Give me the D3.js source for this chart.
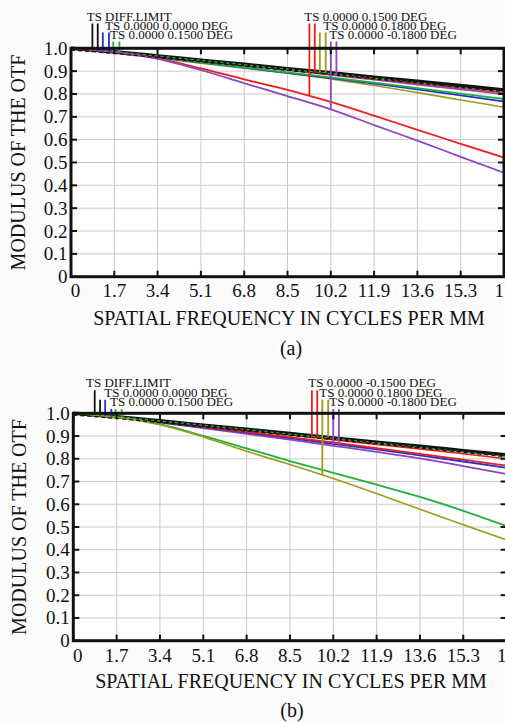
<!DOCTYPE html>
<html>
<head>
<meta charset="utf-8">
<script src="https://cdn.jsdelivr.net/npm/d3@7"></script>
<style>
  html, body { margin: 0; padding: 0; background: #fbfbfb; }
  svg { display: block; }
  text { font-family: "Liberation Serif", "Times New Roman", serif; fill: #111; }
</style>
</head>
<body>
<svg id="chart" width="505" height="722"></svg>
<script>
// ---------- data ----------
const freqTicks = [0, 1.7, 3.4, 5.1, 6.8, 8.5, 10.2, 11.9, 13.6, 15.3, 17];
const freqLabels = ["0", "1.7", "3.4", "5.1", "6.8", "8.5", "10.2", "11.9", "13.6", "15.3", "17"];
const mtfTicks = [0, 0.1, 0.2, 0.3, 0.4, 0.5, 0.6, 0.7, 0.8, 0.9, 1.0];
const mtfLabels = ["0", "0.1", "0.2", "0.3", "0.4", "0.5", "0.6", "0.7", "0.8", "0.9", "1.0"];

// panel (a) series, sampled at freqTicks
const aDiff    = [1, 0.985, 0.967, 0.948, 0.930, 0.911, 0.893, 0.874, 0.856, 0.837, 0.818];
const aGreenS  = [1, 0.985, 0.966, 0.947, 0.928, 0.908, 0.889, 0.869, 0.849, 0.828, 0.808];
const aRedS    = [1, 0.984, 0.965, 0.945, 0.926, 0.906, 0.886, 0.866, 0.846, 0.826, 0.805];
const aPurpleS = [1, 0.984, 0.964, 0.944, 0.924, 0.904, 0.883, 0.862, 0.841, 0.820, 0.799];
const aGreenT  = [1, 0.982, 0.961, 0.939, 0.917, 0.895, 0.873, 0.850, 0.826, 0.802, 0.778];
const aBlue    = [1, 0.982, 0.960, 0.938, 0.915, 0.892, 0.869, 0.845, 0.820, 0.794, 0.767];
const aOliveT  = [1, 0.979, 0.957, 0.935, 0.913, 0.891, 0.866, 0.837, 0.806, 0.774, 0.742];
const aRedT    = [1, 0.984, 0.956, 0.912, 0.864, 0.818, 0.765, 0.705, 0.643, 0.582, 0.521];
const aPurpleT = [1, 0.984, 0.954, 0.905, 0.847, 0.791, 0.733, 0.664, 0.596, 0.525, 0.455];

// panel (b) series
const bDiff    = [1, 0.985, 0.967, 0.948, 0.930, 0.911, 0.892, 0.873, 0.855, 0.836, 0.817];
const bGreenS  = [1, 0.985, 0.966, 0.947, 0.928, 0.908, 0.889, 0.869, 0.850, 0.830, 0.810];
const bRedS    = [1, 0.984, 0.965, 0.945, 0.925, 0.905, 0.884, 0.863, 0.843, 0.822, 0.800];
const bRedT    = [1, 0.983, 0.962, 0.940, 0.918, 0.895, 0.872, 0.847, 0.822, 0.796, 0.770];
const bBlue    = [1, 0.983, 0.961, 0.938, 0.915, 0.891, 0.866, 0.841, 0.815, 0.788, 0.760];
const bPurple  = [1, 0.982, 0.959, 0.935, 0.910, 0.884, 0.857, 0.830, 0.802, 0.768, 0.733];
const bGreenT  = [1, 0.983, 0.952, 0.901, 0.846, 0.790, 0.738, 0.686, 0.632, 0.571, 0.504];
const bOliveT  = [1, 0.982, 0.950, 0.896, 0.833, 0.775, 0.713, 0.647, 0.578, 0.510, 0.443];

// legend texts
const aLegendLeft  = ["TS DIFF.LIMIT", "TS 0.0000 0.0000 DEG", "TS 0.0000 0.1500 DEG"];
const aLegendRight = ["TS 0.0000 0.1500 DEG", "TS 0.0000 0.1800 DEG", "TS 0.0000 -0.1800 DEG"];
const bLegendLeft  = ["TS DIFF.LIMIT", "TS 0.0000 0.0000 DEG", "TS 0.0000 0.1500 DEG"];
const bLegendRight = ["TS 0.0000 -0.1500 DEG", "TS 0.0000 0.1800 DEG", "TS 0.0000 -0.1800 DEG"];

// legend marker frequencies
const markerFreqsLeft  = [0.84, 1.05, 1.25, 1.49, 1.66, 1.90];
const markerFreqsRight = [9.36, 9.57, 9.77, 10.0, 10.2, 10.42];

const xTitle = "SPATIAL FREQUENCY IN CYCLES PER MM";
const yTitle = "MODULUS OF THE OTF";

// ---------- styles ----------
const C = {
  black: "#111111", blue: "#2233cc", green: "#22b03c", red: "#ee1c1c",
  olive: "#9c9c1e", purple: "#8f45c0", grid: "#c9c9c9"
};

const panels = [
  {
    name: "(a)", x0: 71, x1: 504, y0: 48.3, y1: 276.7,
    lines: [
      { v: aOliveT, c: C.olive, w: 1.6 },
      { v: aBlue, c: C.blue, w: 1.8 },
      { v: aGreenT, c: C.green, w: 1.8 },
      { v: aPurpleS, c: C.purple, w: 1.6 },
      { v: aRedS, c: C.red, w: 1.6 },
      { v: aDiff, c: C.black, w: 3.4 },
      { v: aGreenS, c: C.green, w: 1.4, d: "3,3" },
      { v: aRedT, c: C.red, w: 1.8 },
      { v: aPurpleT, c: C.purple, w: 1.8 }
    ],
    legL: aLegendLeft, legR: aLegendRight,
    legLx: [86.7, 105, 110], legRx: [304.3, 323.3, 329.3], legBase: [20.5, 29.5, 38.5],
    markersL: [
      { c: C.black, row: 0, v: aDiff }, { c: C.black, row: 0, v: aDiff },
      { c: C.blue, row: 1, v: aBlue }, { c: C.blue, row: 1, v: aBlue },
      { c: C.green, row: 2, v: aGreenT }, { c: C.green, row: 2, v: aGreenS }
    ],
    markersR: [
      { c: C.red, row: 0, v: aRedT }, { c: C.red, row: 0, v: aRedS },
      { c: C.olive, row: 1, v: aGreenS }, { c: C.olive, row: 1, v: aGreenS },
      { c: C.purple, row: 2, v: aPurpleT }, { c: C.purple, row: 2, v: aPurpleS }
    ],
    xLabBase: 296.5, xTitleBase: 325, xTitleX: 289, yTitleX: 25, capBase: 355, capX: 291
  },
  {
    name: "(b)", x0: 73.3, x1: 506.6, y0: 413.3, y1: 640.7,
    lines: [
      { v: bPurple, c: C.purple, w: 1.8 },
      { v: bBlue, c: C.blue, w: 1.8 },
      { v: bRedT, c: C.red, w: 1.8 },
      { v: bRedS, c: C.red, w: 1.6 },
      { v: bDiff, c: C.black, w: 3.4 },
      { v: bGreenS, c: C.green, w: 1.4, d: "3,3" },
      { v: bGreenT, c: C.green, w: 1.8 },
      { v: bOliveT, c: C.olive, w: 1.6 }
    ],
    legL: bLegendLeft, legR: bLegendRight,
    legLx: [86, 104.3, 110], legRx: [308.3, 319.3, 329.3], legBase: [387.3, 396.7, 406],
    markersL: [
      { c: C.black, row: 0, v: bDiff }, { c: C.black, row: 1, v: bDiff },
      { c: C.blue, row: 1, v: bBlue }, { c: C.blue, row: 2, v: bBlue },
      { c: C.green, row: 2, v: bGreenT }, { c: C.green, row: 2, v: bGreenS }
    ],
    markersR: [
      { c: C.red, row: 0, v: bRedS }, { c: C.red, row: 0, v: bRedS },
      { c: C.olive, row: 1, v: bOliveT }, { c: C.olive, row: 1, v: bDiff },
      { c: C.purple, row: 2, v: bPurple }, { c: C.purple, row: 2, v: bPurple }
    ],
    xLabBase: 662, xTitleBase: 688, xTitleX: 291, yTitleX: 26, capBase: 717, capX: 292
  }
];

const svg = d3.select("#chart");
svg.append("rect").attr("width", 505).attr("height", 722).attr("fill", "#fbfbfb");

panels.forEach(p => {
  const x = d3.scaleLinear().domain([0, 17]).range([p.x0, p.x1]);
  const y = d3.scaleLinear().domain([0, 1]).range([p.y1, p.y0]);
  const g = svg.append("g");

  // plot background
  g.append("rect").attr("x", p.x0).attr("y", p.y0)
    .attr("width", p.x1 - p.x0).attr("height", p.y1 - p.y0).attr("fill", "#ffffff");

  // grid
  g.append("g").selectAll("line").data(freqTicks.slice(1, -1)).join("line")
    .attr("x1", d => x(d)).attr("x2", d => x(d)).attr("y1", p.y0).attr("y2", p.y1)
    .attr("stroke", C.grid).attr("stroke-width", 1);
  g.append("g").selectAll("line").data(mtfTicks.slice(1, -1)).join("line")
    .attr("y1", d => y(d)).attr("y2", d => y(d)).attr("x1", p.x0).attr("x2", p.x1)
    .attr("stroke", C.grid).attr("stroke-width", 1);

  // curves
  const line = d3.line().x((d, i) => x(freqTicks[i])).y(d => y(d)).curve(d3.curveMonotoneX);
  p.lines.forEach(L => {
    g.append("path").attr("d", line(L.v)).attr("fill", "none")
      .attr("stroke", L.c).attr("stroke-width", L.w)
      .attr("stroke-dasharray", L.d || null);
  });
  // dashed black overlay just under the diffraction limit
  g.append("path").attr("d", line(p.lines.find(L => L.c === C.black).v)).attr("fill", "none")
    .attr("stroke", C.black).attr("stroke-width", 1.2).attr("stroke-dasharray", "4,3")
    .attr("transform", "translate(0,1.8)");

  // legend markers
  const valAt = (vals, f) => d3.scaleLinear().domain(freqTicks).range(vals)(f);
  const drawMarkers = (freqs, marks) => {
    marks.forEach((m, i) => {
      const f = freqs[i];
      g.append("line").attr("x1", x(f)).attr("x2", x(f))
        .attr("y1", p.legBase[m.row] + 3).attr("y2", y(valAt(m.v, f)))
        .attr("stroke", m.c).attr("stroke-width", 1.8);
    });
  };
  drawMarkers(markerFreqsLeft, p.markersL);
  drawMarkers(markerFreqsRight, p.markersR);

  // legend text
  p.legL.forEach((t, i) => g.append("text").attr("x", p.legLx[i]).attr("y", p.legBase[i])
    .attr("font-size", 13).text(t));
  p.legR.forEach((t, i) => g.append("text").attr("x", p.legRx[i]).attr("y", p.legBase[i])
    .attr("font-size", 13).text(t));

  // frame
  g.append("rect").attr("x", p.x0).attr("y", p.y0)
    .attr("width", p.x1 - p.x0).attr("height", p.y1 - p.y0)
    .attr("fill", "none").attr("stroke", "#111").attr("stroke-width", 3);

  // inward ticks
  const tk = 6;
  g.append("g").selectAll("line").data(freqTicks).join("line")
    .attr("x1", d => x(d)).attr("x2", d => x(d)).attr("y1", p.y1).attr("y2", p.y1 - tk)
    .attr("stroke", "#111").attr("stroke-width", 2);
  g.append("g").selectAll("line").data(freqTicks).join("line")
    .attr("x1", d => x(d)).attr("x2", d => x(d)).attr("y1", p.y0).attr("y2", p.y0 + tk)
    .attr("stroke", "#111").attr("stroke-width", 2);
  g.append("g").selectAll("line").data(mtfTicks).join("line")
    .attr("y1", d => y(d)).attr("y2", d => y(d)).attr("x1", p.x0).attr("x2", p.x0 + tk)
    .attr("stroke", "#111").attr("stroke-width", 2);
  g.append("g").selectAll("line").data(mtfTicks).join("line")
    .attr("y1", d => y(d)).attr("y2", d => y(d)).attr("x1", p.x1).attr("x2", p.x1 - tk)
    .attr("stroke", "#111").attr("stroke-width", 2);

  // tick labels
  g.append("g").selectAll("text").data(freqTicks).join("text")
    .attr("x", (d, i) => x(d) + (i === 0 ? 4.5 : 0)).attr("y", p.xLabBase)
    .attr("text-anchor", "middle").attr("font-size", 19)
    .text((d, i) => freqLabels[i]);
  g.append("g").selectAll("text").data(mtfTicks).join("text")
    .attr("x", p.x0 - 3.5).attr("y", d => y(d) + 6.5)
    .attr("text-anchor", "end").attr("font-size", 19)
    .text((d, i) => mtfLabels[i]);

  // titles
  g.append("text").attr("x", p.xTitleX).attr("y", p.xTitleBase)
    .attr("text-anchor", "middle").attr("font-size", 20).text(xTitle);
  g.append("text")
    .attr("transform", `translate(${p.yTitleX},${(p.y0 + p.y1) / 2}) rotate(-90)`)
    .attr("text-anchor", "middle").attr("font-size", 20).text(yTitle);
  g.append("text").attr("x", p.capX).attr("y", p.capBase)
    .attr("text-anchor", "middle").attr("font-size", 20).text(p.name);
});
</script>
</body>
</html>
